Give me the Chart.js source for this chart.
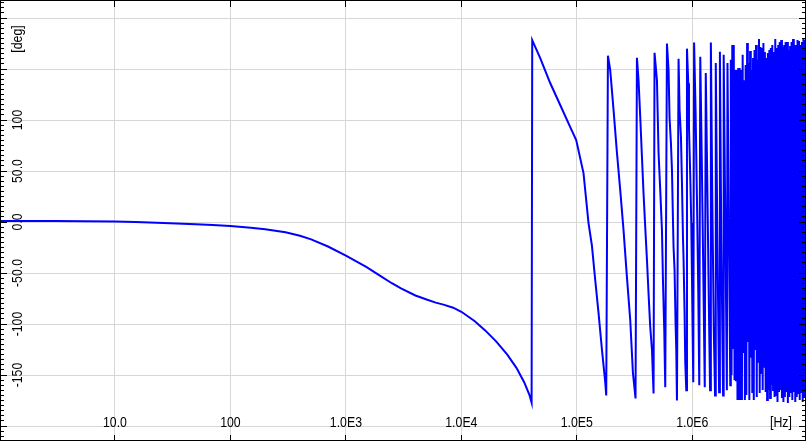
<!DOCTYPE html>
<html>
<head>
<meta charset="utf-8">
<script src="https://cdn.jsdelivr.net/npm/chart.js@4.4.0/dist/chart.umd.min.js"></script>
<style>
  html, body { margin: 0; padding: 0; background: #fff; }
</style>
</head>
<body>
<canvas id="phaseChart" width="807" height="441"></canvas>
<script>
// phase response: frequency [Hz] / phase [deg]
var freqHz = [
  1, 3, 10, 15, 20, 30, 50, 70, 100, 150, 200, 300, 400, 500, 700,
  1000, 1500, 2000, 2500, 3000, 4000, 5000, 6000, 7000, 8500,
  10000, 13000, 16000, 20000, 25000, 30000, 35000, 39000, 40600,
  // wraps
  41100, 48200, 58800, 71800, 87700, 98800, 114300, 126300, 135100, 144400, 154200, 165000, 176300, 179800,
  186000, 194700, 208000, 222600, 237800, 253900, 271700, 290200, 306200, 322600,
  331700, 342500, 354300, 366500, 378400, 391400, 405000, 418100, 432500, 447500, 462000,
  471300, 494400, 510500, 528100, 546300, 557300, 572000, 583400,
  603600, 623100, 635700, 653700, 667000, 680300, 688700, 702500, 716700, 726700, 736900,
  760900, 776200, 798300, 814300, 830700, 840700, 857700, 869700, 887200,
  899700, 923300, 936300, 960900, 980200, 994000, 1006000, 1020000,
  1037000, 1068000, 1098000, 1127000, 1150000,
  1173000, 1209000, 1245000, 1283000,
  1309000, 1349000, 1390000, 1426000,
  1449000, 1491000, 1536000, 1576000,
  1598000, 1647000, 1707000,
  1735000, 1784000, 1849000,
  1871000, 1932000, 1994000,
  2018000, 2084000, 2134000,
  // dense part
  2157000, 2189000, 2221000, 2254000, 2288000, 2322000, 2357000, 2392000,
  2427000, 2463000, 2500000, 2537000, 2575000, 2613000, 2652000, 2692000,
  2732000, 2773000, 2814000, 2856000, 2898000, 2941000, 2985000, 3029000,
  3075000, 3121000, 3167000, 3214000, 3262000, 3311000, 3360000, 3410000,
  3461000, 3513000, 3565000, 3618000, 3671000, 3726000, 3782000, 3838000,
  3895000, 3953000, 4012000, 4072000, 4132000, 4194000, 4256000, 4319000,
  4384000, 4449000, 4515000, 4582000, 4651000, 4720000, 4790000, 4861000,
  4934000, 5008000, 5082000, 5158000, 5235000, 5313000, 5392000, 5472000,
  5553000, 5636000, 5720000, 5805000, 5891000, 5979000, 6068000, 6158000,
  6250000, 6343000, 6438000, 6534000, 6631000, 6730000, 6830000, 6932000,
  7035000, 7140000, 7246000, 7354000, 7463000, 7574000, 7687000, 7802000,
  7918000, 8036000, 8155000, 8277000, 8400000, 8525000, 8652000, 8781000,
  8912000, 9045000, 9179000, 9316000, 9454000
];
var phaseDeg = [
  1.0, 1.0, 0.6, 0.0, -0.5, -1.2, -2.2, -3.0, -4.0, -5.5, -7.0, -10.0, -13.5, -17, -24,
  -33, -44, -53, -60, -65, -72, -76, -79, -81, -84,
  -88, -97, -106, -117, -130, -143, -157, -170, -177,
  // wraps
  178.4, 160.8, 136.3, 114.7, 93.1, 80.4, 48, -1, -23, -57, -89, -125, -157, -170,
  163, 149, 110, 68, 31, -8, -54, -96, -148, -173,
  161, 139, 103, 64, 28, -5, -37, -70, -103, -125, -168,
  166, 139, 68, 31, -8, -57, -106, -162,
  175, 149, 102, 77, 51, 2, -25, -47, -99, -125, -175,
  160, 110, 83, 38, -15, -37, -89, -138, -165,
  170, 136, 93, 44, -1, -54, -103, -157,
  176, 110, 22, -67, -160,
  162, 61, -47, -162,
  146, 41, -76, -165,
  176, 22, -106, -170,
  156, -8, -167,
  167, -18, -170,
  164, 2, -165,
  156, -27, -160,
  // dense part
  159, -150, 173.5, -123.5, 173.5, -155, 149, -155,
  149, -174.5, 151, -174.5, 151, -174.5, 149, -174.5,
  164, -128.4, 139, -174.5, 154, -169.6, 175.5, -117.6,
  156, -174.5, 167.6, -133, 149, -167.6, 160.8, -174.5,
  168.6, -125.5, 173.5, -171.6, 159, -137, 179.4, -167.6,
  171.6, -148, 170.6, -164.7, 175.5, -142, 166.7, -166.7,
  160.8, -174.5, 165.7, -164.7, 168.6, -172.5, 170.6, -159.8,
  173.5, -164.7, 166.7, -171.6, 179.5, -169.6, 170.6, -176.5,
  173.5, -166.7, 176.5, -164.7, 178.4, -172.5, 171.6, -176.5,
  173.5, -171.6, 176.5, -166.7, 176.5, -177.5, 168.6, -171.6,
  172.5, -167.6, 176.5, -174.5, 179.4, -166.7, 173.5, -176.5,
  173.5, -171.6, 178.4, -167.6, 177.5, -174.5, 173.5, -166.7,
  176.5, -176.5, 179.5, -171.6, 178.4
];

var xTickValues = [10, 100, 1e3, 1e4, 1e5, 1e6];
var xTickLabels = ["10.0", "100", "1.0E3", "1.0E4", "1.0E5", "1.0E6"];
var yGridValues = [-200, -150, -100, -50, 0, 50, 100, 150, 200];
var yTickValues = [-150, -100, -50, 0, 50, 100];
var yTickLabels = ["-150", "-100", "-50.0", "0.0", "50.0", "100"];

var points = freqHz.map(function(f, i) {
  return { x: f, y: phaseDeg[i] };
});

// pick a narrow face if there is one, otherwise squeeze the normal one
var squeeze = 1;
var labelFont = "15px 'Liberation Sans Narrow', 'Arial Narrow', 'Liberation Sans', Arial, sans-serif";
(function() {
  var c = document.createElement("canvas").getContext("2d");
  c.font = labelFont;
  var w1 = c.measureText("1.0E3").width;
  c.font = "15px 'Liberation Sans', Arial, sans-serif";
  var w2 = c.measureText("1.0E3").width;
  if (w1 / w2 > 0.9) squeeze = 0.82;
})();

function drawLabel(ctx, text, x, y, angle) {
  ctx.save();
  ctx.translate(x, y);
  ctx.rotate(angle);
  ctx.scale(squeeze, 1);
  ctx.fillText(text, 0, 0);
  ctx.restore();
}

function align(p) {
  return Math.round(p - 0.5) + 0.5;
}

var framePlugin = {
  id: "frame",
  afterDraw: function(chart) {
    var ctx = chart.ctx;
    var a = chart.chartArea;
    var xs = chart.scales.x;
    var ys = chart.scales.y;
    ctx.save();
    ctx.strokeStyle = "#000";
    ctx.lineWidth = 1;
    ctx.strokeRect(a.left - 0.5, a.top - 0.5, a.right - a.left + 1, a.bottom - a.top + 1);

    // tick marks on all four sides, inside the box
    ctx.beginPath();
    for (var v = Math.ceil(ys.min / 5) * 5; v <= ys.max; v += 5) {
      var py = align(ys.getPixelForValue(v));
      var len = (v % 50 === 0) ? 6 : 3;
      ctx.moveTo(a.left, py);
      ctx.lineTo(a.left + len, py);
      ctx.moveTo(a.right, py);
      ctx.lineTo(a.right - len, py);
    }
    xTickValues.forEach(function(v) {
      var px = align(xs.getPixelForValue(v));
      ctx.moveTo(px, a.bottom);
      ctx.lineTo(px, a.bottom - 5);
      ctx.moveTo(px, a.top);
      ctx.lineTo(px, a.top + 6);
    });
    ctx.stroke();

    // labels
    ctx.fillStyle = "#000";
    ctx.font = labelFont;
    ctx.textAlign = "center";
    ctx.textBaseline = "alphabetic";
    xTickValues.forEach(function(v, i) {
      drawLabel(ctx, xTickLabels[i], xs.getPixelForValue(v), a.bottom - 13, 0);
    });
    yTickValues.forEach(function(v, i) {
      drawLabel(ctx, yTickLabels[i], a.left + 21, ys.getPixelForValue(v), -Math.PI / 2);
    });
    drawLabel(ctx, "[Hz]", a.right - 24, a.bottom - 13, 0);
    drawLabel(ctx, "[deg]", a.left + 21, a.top + 38, -Math.PI / 2);
    ctx.restore();
  }
};

new Chart("phaseChart", {
  type: "line",
  data: {
    datasets: [{
      data: points,
      borderColor: "#0000ff",
      borderWidth: 2,
      pointRadius: 0,
      fill: false,
      tension: 0
    }]
  },
  options: {
    responsive: false,
    animation: false,
    events: [],
    layout: { padding: { left: 1, right: 2, top: 1, bottom: 1 } },
    plugins: {
      legend: { display: false },
      tooltip: { enabled: false }
    },
    scales: {
      x: {
        type: "logarithmic",
        min: 1.03,
        max: 9.47e6,
        afterBuildTicks: function(scale) {
          scale.ticks = xTickValues.map(function(v) { return { value: v }; });
        },
        ticks: { display: false },
        grid: { color: "#d7d7d7", lineWidth: 1, drawTicks: false },
        border: { display: false }
      },
      y: {
        type: "linear",
        min: -213.7,
        max: 216.7,
        afterBuildTicks: function(scale) {
          scale.ticks = yGridValues.map(function(v) { return { value: v }; });
        },
        ticks: { display: false },
        grid: { color: "#d7d7d7", lineWidth: 1, drawTicks: false },
        border: { display: false }
      }
    }
  },
  plugins: [framePlugin]
});
</script>
</body>
</html>
